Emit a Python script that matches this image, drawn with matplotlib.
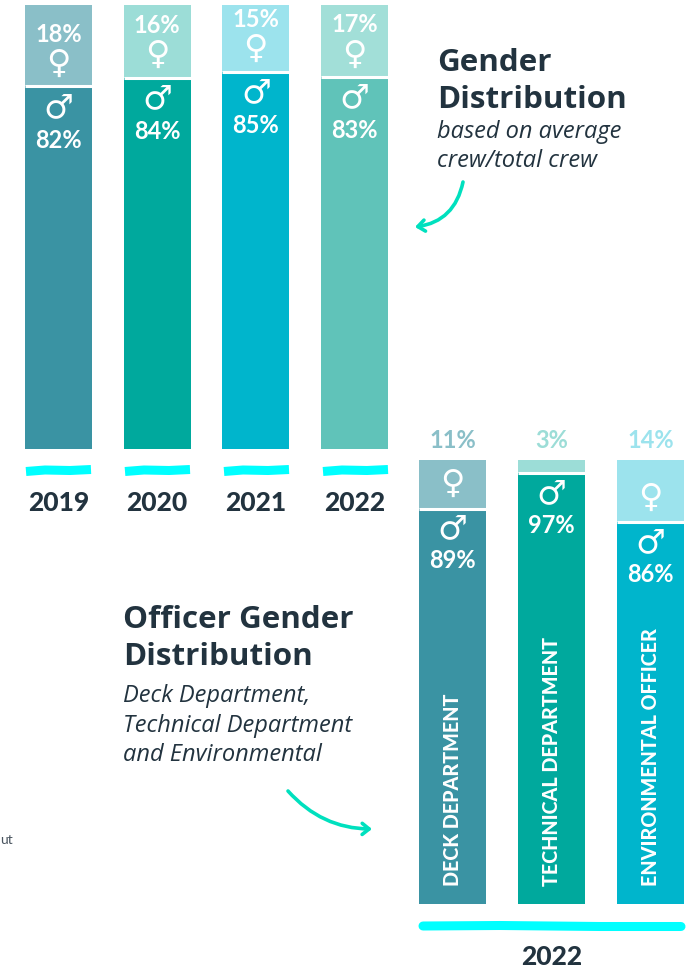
import matplotlib
matplotlib.use("Agg")
import matplotlib.pyplot as plt
from matplotlib.patches import FancyArrowPatch

# ---- data ----
years = ["2019", "2020", "2021", "2022"]
male_top = [81.7, 83.6, 85.0, 83.8]          # drawn bar split (share of bar height)
male_labels = ["82%", "84%", "85%", "83%"]
female_labels = ["18%", "16%", "15%", "17%"]
male_top_colors = ["#3A93A3", "#00A99D", "#00B5CC", "#60C3B9"]
female_top_colors = ["#8ABFC8", "#9CDDD7", "#9CE3ED", "#A2DFD8"]

departments = ["DECK DEPARTMENT", "TECHNICAL DEPARTMENT", "ENVIRONMENTAL OFFICER"]
male_dept = [89, 97, 86]
female_dept = [11, 3, 14]
male_dept_colors = ["#3A93A3", "#00A99D", "#00B5CC"]
female_dept_colors = ["#8ABFC8", "#9CDDD7", "#9CE3ED"]

W, H = 693, 969
DARK = "#22333F"
CYAN = "#00FFFF"
ARROW = "#00E0BE"
HAND = "Lato"
SYM = "DejaVu Sans"

fig = plt.figure(figsize=(W / 100, H / 100), dpi=100, facecolor="white")


def make_axes(x0, x1, y0, y1):
    ax = fig.add_axes([x0 / W, 1 - y1 / H, (x1 - x0) / W, (y1 - y0) / H])
    ax.set_ylim(0, 100)
    for s in ax.spines.values():
        s.set_visible(False)
    ax.set_yticks([])
    ax.patch.set_alpha(0)
    return ax


def label(ax, i, val, txt, dy, color="white", size=17, family=HAND, weight="bold"):
    ax.annotate(txt, xy=(i, val), xytext=(0, dy), textcoords="offset pixels",
                ha="center", va="center", color=color, fontsize=size,
                family=family, fontweight=weight, annotation_clip=False)


def stacked(ax, values, male_cols, female_cols, width):
    xs = range(len(values))
    ax.bar(xs, values, width=width, color=male_cols, linewidth=0)
    ax.bar(xs, [100 - v for v in values], bottom=values, width=width,
           color=female_cols, linewidth=0)
    ax.hlines(values, [x - width / 2 for x in xs], [x + width / 2 for x in xs],
              color="white", lw=2.2)


# ---- top chart ----
ax1 = make_axes(25, 388, 5, 449)
ax1.set_xlim(-0.3395, 3.3395)
stacked(ax1, male_top, male_top_colors, female_top_colors, 0.679)
ax1.set_xticks(range(4), years)
ax1.tick_params(axis="x", length=0, pad=30.5, labelsize=19, labelcolor=DARK)
for t in ax1.get_xticklabels():
    t.set_family(HAND)
    t.set_fontweight("black")
for i, v in enumerate(male_top):
    label(ax1, i, v, male_labels[i], -54)
    label(ax1, i, v, "\u2642", -21, size=24, family=SYM, weight="normal")
    label(ax1, i, v, female_labels[i], 52)
    label(ax1, i, v, "\u2640", 23, size=24, family=SYM, weight="normal")

# ---- bottom chart ----
ax2 = make_axes(419, 684, 460, 904)
ax2.set_xlim(-0.3384, 2.3384)
stacked(ax2, male_dept, male_dept_colors, female_dept_colors, 0.6768)
ax2.set_xticks(range(3), [""] * 3)
ax2.tick_params(axis="x", length=0)
for i, v in enumerate(male_dept):
    label(ax2, i, v, f"{v}%", -52)
    label(ax2, i, v, "\u2642", -20, size=24, family=SYM, weight="normal")
    label(ax2, i, 100, f"{female_dept[i]}%", 19, color=female_dept_colors[i])
    if female_dept[i] > 5:
        label(ax2, i, v, "\u2640", 25, size=24, family=SYM, weight="normal")
    ax2.annotate(departments[i], xy=(i, 0), xytext=(0, 18), textcoords="offset pixels",
                 rotation=90, ha="center", va="bottom", color="white", fontsize=14.2,
                 family=HAND, fontweight="black")

# ---- overlay in pixel coordinates: headings and decorations ----
ov = fig.add_axes([0, 0, 1, 1], zorder=5)
ov.set_xlim(0, W)
ov.set_ylim(H, 0)
ov.axis("off")
ov.patch.set_alpha(0)

TITLE = dict(family="Open Sans", fontweight="bold", color=DARK, fontsize=22.6, va="center", ha="left")
SUB = dict(family="Open Sans", style="italic", color=DARK, fontsize=17, va="center", ha="left")
ov.text(437, 63, "Gender", **TITLE)
ov.text(437, 100, "Distribution", **TITLE)
ov.text(437, 132, "based on average", **SUB)
ov.text(437, 161, "crew/total crew", **SUB)
ov.text(123, 620, "Officer Gender", **TITLE)
ov.text(123, 657, "Distribution", **TITLE)
ov.text(123, 696, "Deck Department,", **SUB)
ov.text(123, 726, "Technical Department", **SUB)
ov.text(123, 755, "and Environmental", **SUB)
ov.text(0, 840, "ut", family="Lato", fontsize=10, color="#4A5560", va="center", ha="left")

for x0 in (25, 124, 223, 322):
    ov.plot([x0 + 1, x0 + 20, x0 + 45, x0 + 66], [471.5, 470, 470.5, 469.5],
            color=CYAN, lw=6.5, solid_capstyle="butt")
ov.plot([423, 500, 600, 681], [926, 925.5, 926.5, 926.5], color=CYAN, lw=6.5,
        solid_capstyle="round")
ov.text(552, 957, "2022", family=HAND, fontweight="black", color=DARK, fontsize=19,
        ha="center", va="center")

ov.add_patch(FancyArrowPatch((463, 182), (415, 227), connectionstyle="arc3,rad=-0.35",
                             arrowstyle="->,head_length=5,head_width=4", color=ARROW, lw=2.6,
                             shrinkA=0, shrinkB=0))
ov.add_patch(FancyArrowPatch((288, 791), (372, 829), connectionstyle="arc3,rad=0.22",
                             arrowstyle="->,head_length=5,head_width=4", color=ARROW, lw=2.6,
                             shrinkA=0, shrinkB=0))

fig.savefig("out.png", dpi=100, facecolor="white")
